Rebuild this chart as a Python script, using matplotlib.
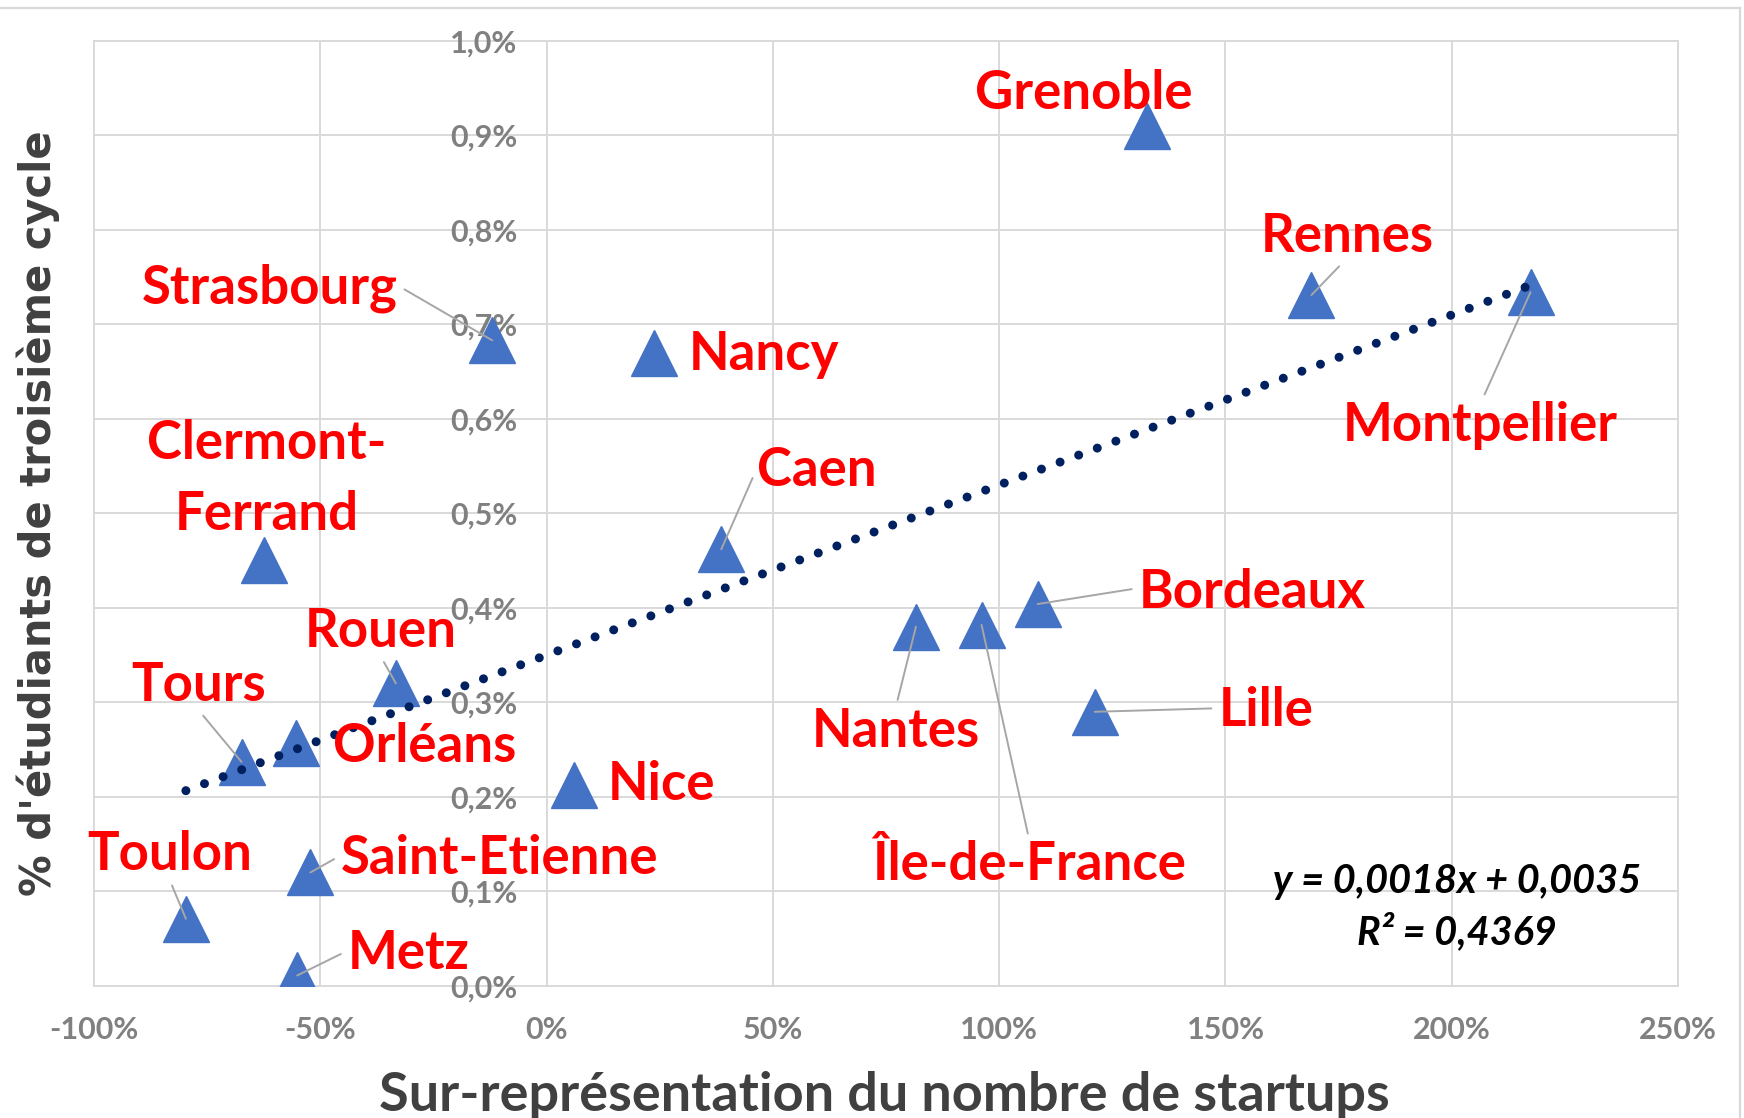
import matplotlib.pyplot as plt
from matplotlib.lines import Line2D
import numpy as np

# data (x and y are in %)
cities = ['Grenoble', 'Rennes', 'Montpellier', 'Strasbourg', 'Nancy',
          'Clermont-\nFerrand', 'Caen', 'Bordeaux', 'Nantes', 'Île-de-France',
          'Lille', 'Rouen', 'Orléans', 'Tours', 'Nice', 'Saint-Etienne',
          'Toulon', 'Metz']
startup_over = [132.6, 169.0, 217.4, -12.0, 23.8, -62.5, 38.6, 108.5, 81.6,
                96.1, 121.1, -33.3, -55.4, -67.4, 6.1, -52.2, -79.7, -55.1]
phd_share = [0.910, 0.731, 0.734, 0.683, 0.670, 0.451, 0.462, 0.404, 0.380,
             0.382, 0.290, 0.320, 0.257, 0.237, 0.213, 0.120, 0.071, 0.011]

# linear trend as given on the chart (fractions)
slope, intercept, r2 = 0.0018, 0.0035, 0.4369

x_ticks = list(range(-100, 251, 50))
y_ticks = [round(v * 0.1, 1) for v in range(0, 11)]

# label offsets in points (dx, dy) and where the leader leaves the text box
label_pos = {
    'Grenoble': ((-45.6, 23.2), None),
    'Rennes': ((25.6, 42.4), (0.5, 0.05)),
    'Montpellier': ((-36, -96), (0.5, 0.95)),
    'Strasbourg': ((-160, 37.6), (1.0, 0.55)),
    'Nancy': ((79, -1.6), None),
    'Clermont-\nFerrand': ((2.4, 58.4), None),
    'Caen': ((68.8, 56.8), (0.0, 0.55)),
    'Bordeaux': ((154.4, 8), (0.0, 0.6)),
    'Nantes': ((-14.4, -75.2), (0.5, 1.0)),
    'Île-de-France': ((34.4, -172.8), (0.5, 1.0)),
    'Lille': ((123.2, 0.8), (0.0, 0.55)),
    'Rouen': ((-11.2, 37.6), (0.5, 0.0)),
    'Orléans': ((92.8, -2.4), None),
    'Tours': ((-31.2, 55.2), (0.5, 0.0)),
    'Nice': ((63.2, 0), None),
    'Saint-Etienne': ((136, 10.4), (0.0, 0.55)),
    'Toulon': ((-12, 46.4), (0.5, 0.0)),
    'Metz': ((80, 16), (0.0, 0.55)),
}

grid_col = '#d9d9d9'
tick_col = '#808080'
font = 'Lato'

fig = plt.figure(figsize=(17.44, 11.18), dpi=100)
ax = fig.add_axes([0.0539, 0.1182, 0.9083, 0.8453])
ax.set_xlim(-100, 250)
ax.set_ylim(0, 1.0)

for t in x_ticks:
    ax.axvline(t, color=grid_col, lw=1.4, zorder=0.5, clip_on=False)
for t in y_ticks:
    ax.axhline(t, color=grid_col, lw=1.4, zorder=0.5, clip_on=False)

for s in ['top', 'right', 'bottom']:
    ax.spines[s].set_visible(False)
ax.spines['left'].set_position(('data', 0))
ax.spines['left'].set_color('none')

ax.set_xticks(x_ticks)
ax.set_xticklabels([f'{t}%' for t in x_ticks])
ax.set_yticks(y_ticks)
ax.set_yticklabels([f'{t:.1f}%'.replace('.', ',') for t in y_ticks])
ax.tick_params(length=0, labelsize=22, labelcolor=tick_col)
ax.tick_params(axis='x', pad=22)
ax.tick_params(axis='y', pad=21)
for lab in ax.get_xticklabels() + ax.get_yticklabels():
    lab.set_fontfamily(font)
    lab.set_fontweight('bold')

ax.plot(startup_over, phd_share, linestyle='none', marker='^', ms=33,
        color='#4472C4', zorder=3)

xs = np.array([min(startup_over), max(startup_over)])
ys = (slope * xs / 100 + intercept) * 100
ax.plot(xs, ys, color='#002060', lw=6.5, linestyle=(0, (0.001, 2.2)),
        dash_capstyle='round', zorder=4)

for name, x, y in zip(cities, startup_over, phd_share):
    off, rel = label_pos[name]
    arrow = None
    if rel is not None:
        arrow = dict(arrowstyle='-', color='#a6a6a6', lw=1.4, relpos=rel,
                     shrinkA=3, shrinkB=0)
    ax.annotate(name, (x, y), xytext=off, textcoords='offset points',
                ha='center', va='center', color='red', fontsize=38,
                fontweight='bold', family=font, linespacing=1.55,
                arrowprops=arrow, zorder=5)

eq = f'y = {slope:.4f}x + {intercept:.4f}\nR² = {r2:.4f}'.replace('.', ',')
fig.text(0.8354, 0.1887, eq, ha='center', va='center', fontsize=28.5,
         fontweight='bold', style='italic', family=font, linespacing=1.4)

fig.text(0.022, 0.541, "% d'étudiants de troisième cycle", rotation=90,
         ha='center', va='center', fontsize=30, fontweight='bold',
         color='#404040', family='DejaVu Sans')
fig.text(0.507, 0.006, 'Sur-représentation du nombre de startups',
         ha='center', va='baseline', fontsize=39, fontweight='bold',
         color='#404040', family=font)

# chart frame
fig.add_artist(Line2D([0, 0.9977], [0.9928, 0.9928], color=grid_col, lw=1.6))
fig.add_artist(Line2D([0.9977, 0.9977], [0, 0.9928], color=grid_col, lw=1.6))

fig.savefig('out.png', dpi=100)
